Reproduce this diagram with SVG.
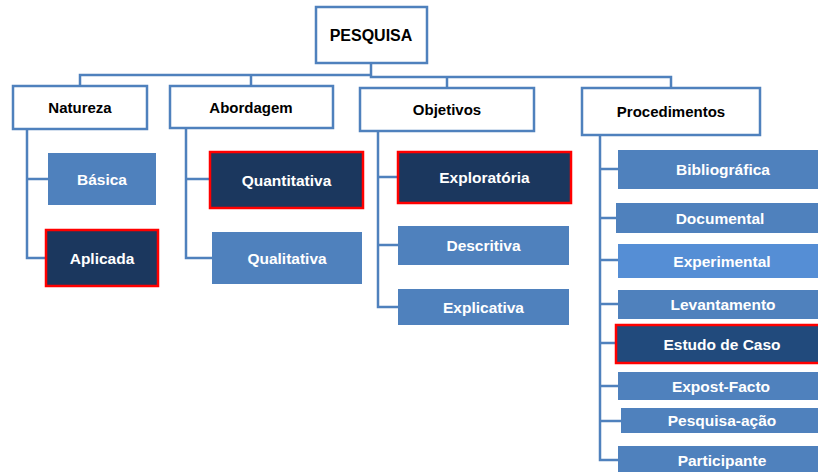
<svg xmlns="http://www.w3.org/2000/svg" width="818" height="472" viewBox="0 0 818 472">
<style>
.hdr rect{fill:#ffffff;stroke:#4f81bd;stroke-width:2.5}
.hdr text{font-family:"Liberation Sans",Arial,sans-serif;font-weight:bold;font-size:15px;fill:#000000;text-anchor:middle;dominant-baseline:central}
.it rect{fill:#4f81bd}
.it text{font-family:"Liberation Sans",Arial,sans-serif;font-weight:bold;font-size:15.5px;fill:#ffffff;text-anchor:middle;dominant-baseline:central}
.sel rect{fill:#1b375e;stroke:#ff0000;stroke-width:2.5}
.lt rect{fill:#558ed5}
.cn{fill:none;stroke:#4f81bd;stroke-width:2.5}
</style>
<rect width="818" height="472" fill="#ffffff"/>
<g id="connectors" class="cn">
<path d="M371,63 V77 H671 V88"/>
<path d="M371,75 H80 V86"/>
<path d="M251,75 V86"/>
<path d="M447,77 V88"/>
<path d="M27,129 V258 H46 M27,179 H48"/>
<path d="M186,128 V258 H212 M186,179 H210"/>
<path d="M378,131 V307 H398 M378,177 H398 M378,245 H398"/>
<path d="M600,135 V460 H618 M600,169 H618 M600,218 H616 M600,260 H618 M600,304 H618 M600,343 H616 M600,386 H618 M600,421 H621"/>
</g>
<g id="pesquisa" class="hdr"><rect x="316" y="7" width="111" height="56"/><text x="371" y="35" style="font-size:16px">PESQUISA</text></g>
<g id="natureza" class="hdr"><rect x="13" y="86" width="134" height="43"/><text x="80" y="107.5">Natureza</text></g>
<g id="abordagem" class="hdr"><rect x="170" y="86" width="163" height="42"/><text x="251" y="107">Abordagem</text></g>
<g id="objetivos" class="hdr"><rect x="360" y="88" width="174" height="43"/><text x="447" y="109.5">Objetivos</text></g>
<g id="procedimentos" class="hdr"><rect x="582" y="88" width="178" height="47"/><text x="671" y="111.5">Procedimentos</text></g>
<g id="basica" class="it"><rect x="48" y="153" width="108" height="52"/><text x="102" y="179">Básica</text></g>
<g id="aplicada" class="it sel"><rect x="46" y="230" width="112" height="56"/><text x="102" y="258">Aplicada</text></g>
<g id="quantitativa" class="it sel"><rect x="210" y="152" width="153" height="56"/><text x="286.5" y="180">Quantitativa</text></g>
<g id="qualitativa" class="it"><rect x="212" y="232" width="150" height="52"/><text x="287" y="258">Qualitativa</text></g>
<g id="exploratoria" class="it sel"><rect x="398" y="152" width="173" height="51"/><text x="484.5" y="177.5">Exploratória</text></g>
<g id="descritiva" class="it"><rect x="398" y="226" width="171" height="39"/><text x="483.5" y="245.5">Descritiva</text></g>
<g id="explicativa" class="it"><rect x="398" y="289" width="171" height="36"/><text x="483.5" y="307">Explicativa</text></g>
<g id="bibliografica" class="it"><rect x="618" y="150" width="210" height="39"/><text x="723" y="169.5">Bibliográfica</text></g>
<g id="documental" class="it"><rect x="616" y="203" width="212" height="30"/><text x="720" y="218">Documental</text></g>
<g id="experimental" class="it lt"><rect x="618" y="244" width="210" height="34"/><text x="722" y="261">Experimental</text></g>
<g id="levantamento" class="it"><rect x="618" y="290" width="210" height="29"/><text x="723" y="304.5">Levantamento</text></g>
<g id="estudo-de-caso" class="it sel"><rect x="616" y="325" width="212" height="38" style="fill:#214a7c"/><text x="722" y="344">Estudo de Caso</text></g>
<g id="expost-facto" class="it"><rect x="618" y="372" width="210" height="28"/><text x="721" y="386">Expost-Facto</text></g>
<g id="pesquisa-acao" class="it"><rect x="621" y="408" width="207" height="25"/><text x="722" y="420.5">Pesquisa-ação</text></g>
<g id="participante" class="it"><rect x="618" y="446" width="210" height="30"/><text x="722" y="460">Participante</text></g>
</svg>
